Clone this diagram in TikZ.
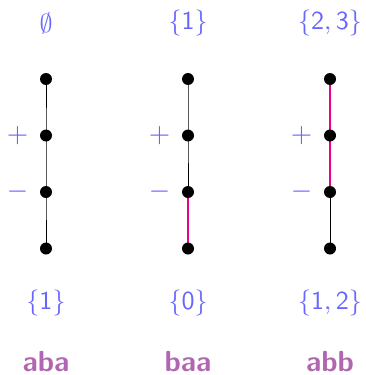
\documentclass[tikz,border=0pt]{standalone}
\definecolor{setblue}{RGB}{102,102,255}
\definecolor{wordpurple}{RGB}{178,102,178}
\definecolor{hilite}{RGB}{236,0,140}
\newcommand{\setbig}[1]{\scalebox{2.6}{#1}}
\newcommand{\signbig}[1]{\scalebox{2.75}{#1}}
\begin{document}
\begin{tikzpicture}[x=1pt,y=-1pt,
  edge/.style={draw=black,line width=1pt},
  hedge/.style={draw=hilite,line width=1.8pt},
  setlbl/.style={text=setblue,inner sep=0pt},
  sign/.style={text=setblue,inner sep=0pt},
  word/.style={text=wordpurple,font=\fontsize{29}{32}\selectfont\sffamily\bfseries,inner sep=0pt,text depth=0pt}]
\useasboundingbox (0,0) rectangle (365,375);
% dot positions
\foreach \c/\x in {a/46,b/188,c/330}{
  \coordinate (\c1) at (\x,79);
  \coordinate (\c2) at (\x,135.5);
  \coordinate (\c3) at (\x,192);
  \coordinate (\c4) at (\x,248.5);
}
% edges
\draw[edge] (a1) -- (a2) -- (a3) -- (a4);
\draw[edge] (b1) -- (b2) -- (b3);
\draw[hedge] (b3) -- (b4);
\draw[hedge] (c1) -- (c2) -- (c3);
\draw[edge] (c3) -- (c4);
% dots
\foreach \c in {a,b,c}{
  \foreach \i in {1,2,3,4}{
    \fill (\c\i) circle (6);
  }
}
% signs
\node[sign] (pa) at (17.5,135.5) {\signbig{$+$}};
\node[sign] (ma) at (17.5,192) {\signbig{$-$}};
\node[sign] (pb) at (159.5,135.5) {\signbig{$+$}};
\node[sign] (mb) at (159.5,192) {\signbig{$-$}};
\node[sign] (pc) at (301.5,135.5) {\signbig{$+$}};
\node[sign] (mc) at (301.5,192) {\signbig{$-$}};
% top labels
\node[setlbl] (ta) at (46,23) {\setbig{$\emptyset$}};
\node[setlbl] (tb) at (188,23) {\setbig{$\{\mathsf{1}\}$}};
\node[setlbl] (tc) at (330,23) {\setbig{$\{\mathsf{2},\mathsf{3}\}$}};
% bottom labels
\node[setlbl] (ba) at (46,303) {\setbig{$\{\mathsf{1}\}$}};
\node[setlbl] (bb) at (188,303) {\setbig{$\{\mathsf{0}\}$}};
\node[setlbl] (bc) at (330,303) {\setbig{$\{\mathsf{1},\mathsf{2}\}$}};
% words
\node[word,anchor=base] (wa) at (46,371) {aba};
\node[word,anchor=base] (wb) at (188,371) {baa};
\node[word,anchor=base] (wc) at (330,371) {abb};
\end{tikzpicture}
\end{document}
